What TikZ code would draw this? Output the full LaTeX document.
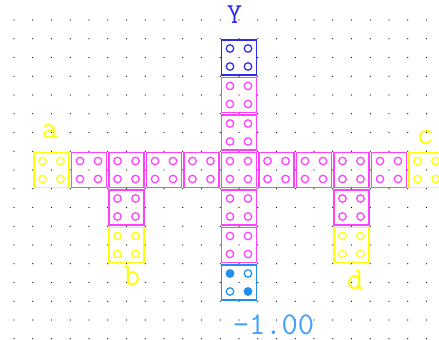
\documentclass[tikz,border=0pt]{standalone}
\usepackage{tikz}
\usetikzlibrary{positioning}
\definecolor{Pink}{HTML}{FF40FF}
\definecolor{Gold}{HTML}{FFFF00}
\definecolor{Navy}{HTML}{2B2BF0}
\definecolor{Sky}{HTML}{2090F0}
\definecolor{Readout}{HTML}{40A0FF}

\begin{document}
\begin{tikzpicture}[x=0.5cm,y=0.5cm,
        cell/.style={draw,line width=1.3pt,minimum size=0.93cm,inner sep=0pt},
        pip/.style={line width=0.95pt},
        tag/.style={font=\fontsize{24}{24}\selectfont\ttfamily,inner sep=0pt}]
  \useasboundingbox (-0.7467,1.0667) rectangle (22.667,-17.067);
  % dot grid
  \foreach \i in {0,...,22}
    \foreach \j in {0,...,17}
      \fill (\i,-\j) circle (0.5pt);
  % cells of the cross
  \foreach \name/\i/\j/\col in {a/2/8/Gold,w4/4/8/Pink,w3/6/8/Pink,w2/8/8/Pink,w1/10/8/Pink,
      hub/12/8/Pink,e1/14/8/Pink,e2/16/8/Pink,e3/18/8/Pink,e4/20/8/Pink,c/22/8/Gold,
      top/12/2/Navy,n2/12/4/Pink,n1/12/6/Pink,s1/12/10/Pink,s2/12/12/Pink,bottom/12/14/Sky,
      bw/6/10/Pink,b/6/12/Gold,be/18/10/Pink,d/18/12/Gold}
    \node[cell,draw=\col] (\name) at (\i,-\j) {};
  % four pips in every cell
  \foreach \name/\col in {a/Gold,w4/Pink,w3/Pink,w2/Pink,w1/Pink,hub/Pink,e1/Pink,e2/Pink,
      e3/Pink,e4/Pink,c/Gold,top/Navy,n2/Pink,n1/Pink,s1/Pink,s2/Pink,
      bw/Pink,b/Gold,be/Pink,d/Gold}
    \foreach \dx/\dy in {-1/1,1/1,-1/-1,1/-1}
      \draw[pip,\col] ([shift={(0.24cm*\dx,0.24cm*\dy)}]\name.center) circle (0.1cm);
  \foreach \dx/\dy in {1/1,-1/-1}
    \draw[pip,Sky] ([shift={(0.24cm*\dx,0.24cm*\dy)}]bottom.center) circle (0.1cm);
  \foreach \dx/\dy in {-1/1,1/-1}
    \filldraw[pip,Sky] ([shift={(0.24cm*\dx,0.24cm*\dy)}]bottom.center) circle (0.1cm);
  % labels
  \node[tag,Navy,font=\fontsize{22}{22}\selectfont\ttfamily,above=0.4cm of top,xshift=-0.12cm] (ylab) {Y};
  \node[tag,Gold,above=0.33cm of a,xshift=-0.04cm] (alab) {a};
  \node[tag,Gold,above=0.18cm of c,xshift=-0.04cm] (clab) {c};
  \node[tag,Gold,below=0.08cm of b,xshift=0.15cm] (blab) {b};
  \node[tag,Gold,below=0.18cm of d,xshift=0.1cm] (dlab) {d};
  \node[tag,Readout,below=0.355cm of bottom,xshift=0.92cm] (value) {-1.00};
\end{tikzpicture}
\end{document}
